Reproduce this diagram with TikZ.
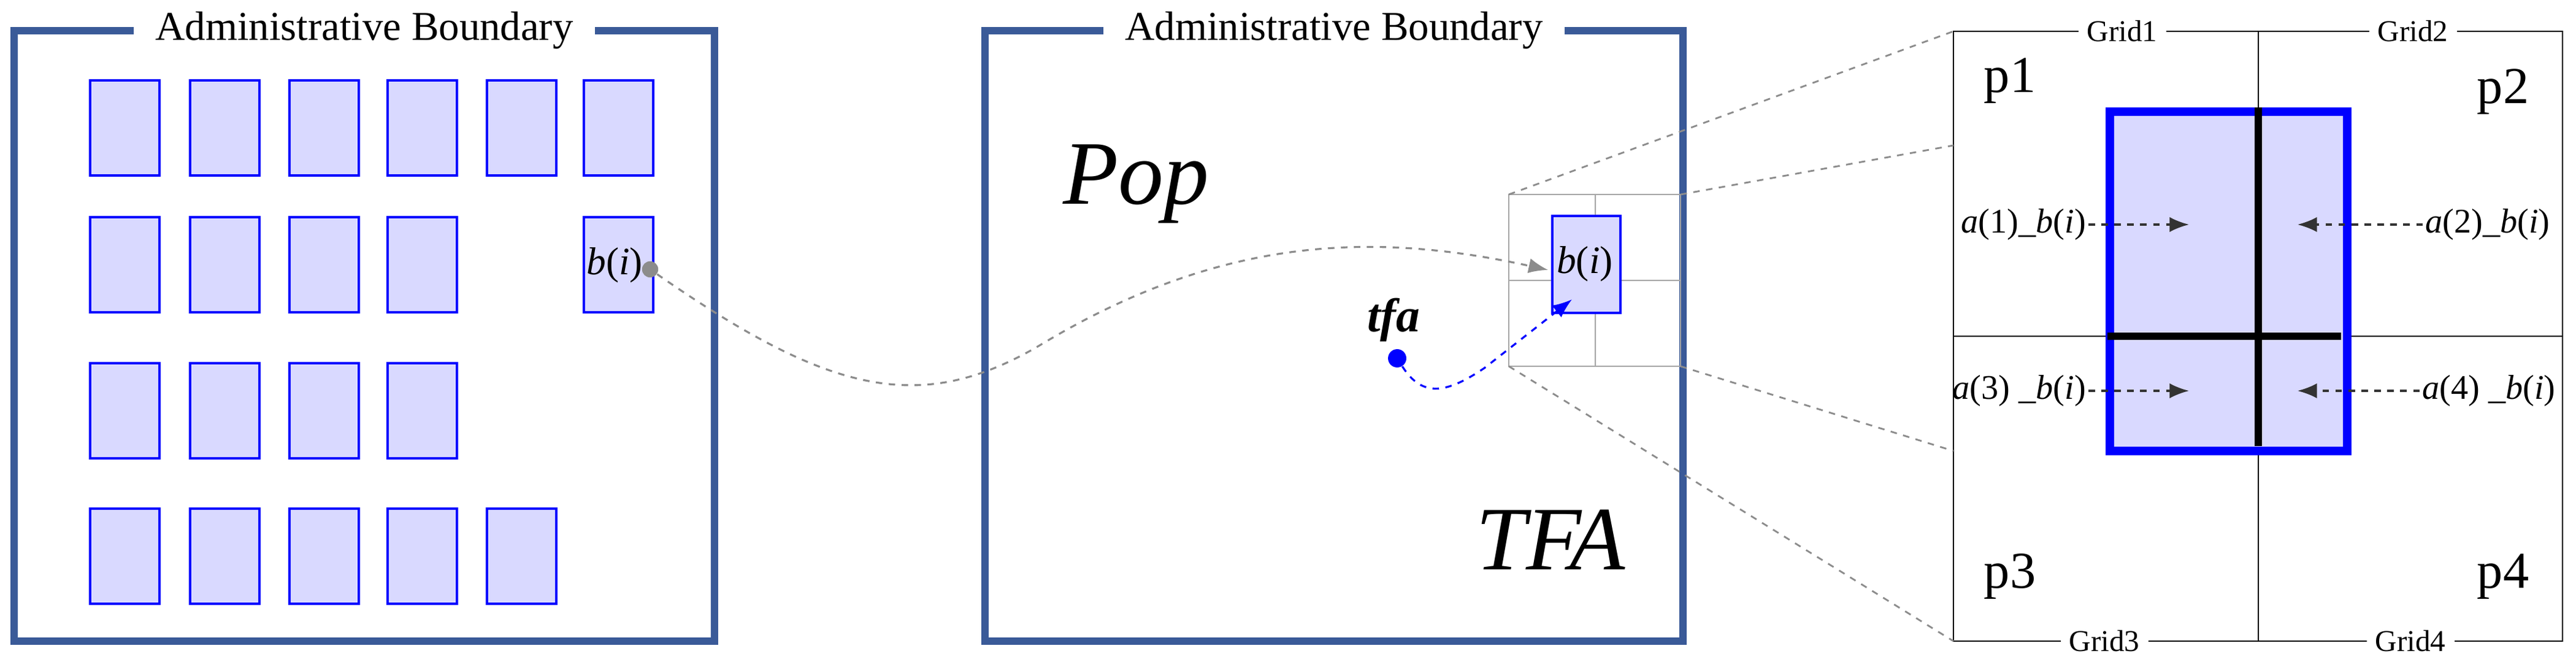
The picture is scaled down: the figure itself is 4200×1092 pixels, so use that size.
\documentclass[tikz,border=0pt]{standalone}
\usepackage{fontspec}
\setmainfont{Liberation Serif}
\usetikzlibrary{positioning,arrows.meta}
\definecolor{frameblue}{RGB}{58,90,152}
\newcommand{\bi}{\textit{b}(\textit{i})}
\begin{document}
\begin{tikzpicture}[x=0.01cm,y=-0.01cm]
      \tikzstyle{boundary}=[draw=frameblue, line width=3.2pt]
      \tikzstyle{title}=[fill=white, inner xsep=10pt, font=\fontsize{19}{21}\selectfont]
      \tikzstyle{bldg}=[draw=blue, fill=blue!15, line width=1.2pt, minimum width=1.13cm, minimum height=1.55cm, inner sep=0pt]
      \tikzstyle{cell}=[draw=black!35, line width=0.6pt]
      \tikzstyle{zoomln}=[draw=black!45, dashed, line width=0.8pt]
      \tikzstyle{flow}=[-{Latex[length=9pt,width=7pt]}, dashed, line width=0.9pt]
      \tikzstyle{lbl}=[font=\fontsize{16}{18}\selectfont, inner sep=1pt]
      \tikzstyle{pid}=[font=\fontsize{24}{26}\selectfont]
      \tikzstyle{gid}=[fill=white, inner xsep=4pt, inner ysep=1pt, font=\fontsize{14}{16}\selectfont]
      \useasboundingbox (0,0) rectangle (4200,1092);

      % left: all buildings
      \draw[boundary] (23,50) rectangle (1165,1045);
      \node[title] (tl) at (594,50) {Administrative Boundary};
      \foreach \r/\y/\n in {1/129/6, 2/352/6, 3/590/4, 4/827/5}
        \foreach \c/\x in {1/145,2/308,3/470,4/630,5/792,6/950} {
          \ifnum\c>\n\else
            \ifnum\r=2 \ifnum\c=5 \else
              \node[bldg, anchor=north west] (b\r\c) at (\x,\y) {};
            \fi\else
              \node[bldg, anchor=north west] (b\r\c) at (\x,\y) {};
            \fi
          \fi}
      \node[lbl, font=\fontsize{18}{20}\selectfont, anchor=east] (bil) at (1052,432) {\bi};
      \node[circle, fill=black!45, inner sep=0pt, minimum size=7.5pt] (bdot) at (1060,439) {};

      % middle: one area
      \draw[boundary] (1606,50) rectangle (2744,1045);
      \node[title] (tm) at (2175,50) {Administrative Boundary};
      \node[font=\fontsize{42}{44}\selectfont\itshape] (pop) at (1852,300) {Pop};
      \node[font=\fontsize{42}{44}\selectfont\itshape] (tfaA) at (2528,880) {TFA};
      \draw[cell] (2460,317) rectangle (2740,597) (2601,317) -- (2601,597) (2460,457) -- (2740,457);
      \node[bldg, minimum width=1.11cm, minimum height=1.58cm, anchor=north west] (bs) at (2529,350) {};
      \node[lbl, font=\fontsize{18}{20}\selectfont] (bsl) at (2584,430) {\bi};
      \node[font=\fontsize{22}{24}\selectfont\bfseries\itshape] (tfa) at (2272,522) {tfa};
      \node[circle, fill=blue, inner sep=0pt, minimum size=8.5pt] (tdot) at (2278,584) {};
      \coordinate (gin) at (2524,440);
      \coordinate (bin) at (2563,488);
      \draw[flow, black!45] (bdot) .. controls (1350,640) and (1500,680) .. (1700,560)
        .. controls (2000,380) and (2250,380) .. (gin);
      \draw[flow, blue] (tdot) .. controls (2320,650) and (2360,640) .. (2420,600)
        -- (bin);

      % right: grid split
      \coordinate (g1) at (3185,51); \coordinate (g2) at (4178,51);
      \coordinate (g3) at (3185,1045); \coordinate (g4) at (4178,1045);
      \draw[line width=0.8pt] (g1) rectangle (g4) (3682,51) -- (3682,1045) (3185,548) -- (4178,548);
      \draw[zoomln] (2460,317) -- (g1) (2740,317) -- (3185,237) (2740,597) -- (3185,735) (2460,597) -- (g3);
      \node[draw=blue, fill=blue!15, line width=4pt, minimum width=3.87cm, minimum height=5.53cm, inner sep=0pt, anchor=north west] (bb) at (3433,175) {};
      \draw[line width=3.2pt] (3682,175) -- (3682,727) (3436,548) -- (3817,548);
      \node[gid] (gr1) at (3460,51) {Grid1};
      \node[gid] (gr2) at (3934,51) {Grid2};
      \node[gid] (gr3) at (3431,1045) {Grid3};
      \node[gid] (gr4) at (3930,1045) {Grid4};
      \node[pid] (p1) at (3277,132) {p1};
      \node[pid] (p2) at (4081,150) {p2};
      \node[pid] (p3) at (3277,940) {p3};
      \node[pid] (p4) at (4081,940) {p4};
      \node[lbl, anchor=east] (a1) at (3405,366) {\textit{a}(1)\_\bi};
      \node[lbl, anchor=west] (a2) at (3950,366) {\textit{a}(2)\_\bi};
      \node[lbl, anchor=east] (a3) at (3405,637) {\textit{a}(3) \_\bi};
      \node[lbl, anchor=west] (a4) at (3945,637) {\textit{a}(4) \_\bi};
      \coordinate (t1) at (3569,366); \coordinate (t2) at (3746,366);
      \coordinate (t3) at (3569,637); \coordinate (t4) at (3746,637);
      \draw[flow, black!80] (a1) -- (t1);
      \draw[flow, black!80] (a2) -- (t2);
      \draw[flow, black!80] (a3) -- (t3);
      \draw[flow, black!80] (a4) -- (t4);
    \end{tikzpicture}
\end{document}
